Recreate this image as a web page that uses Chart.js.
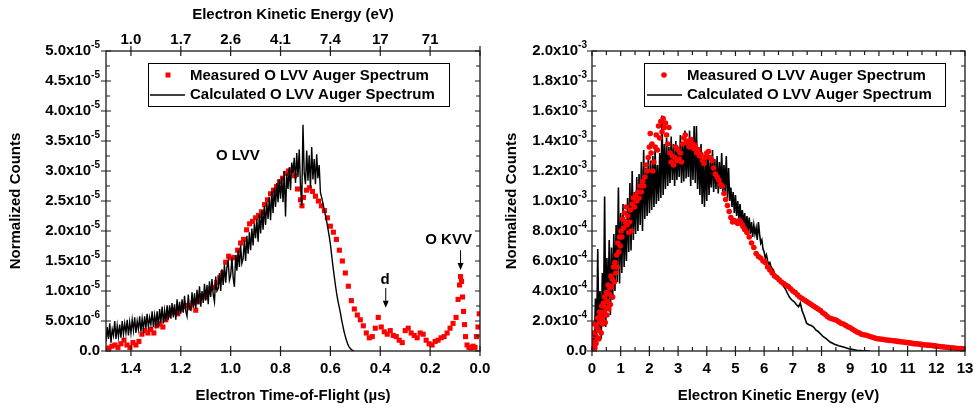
<!DOCTYPE html>
<html lang="en">
<head>
<meta charset="UTF-8">
<title>O LVV Auger Spectrum</title>
<script src="https://cdn.jsdelivr.net/npm/chart.js"></script>
<style>
    body { margin: 0; background: #fff; }
    .wrap { position: relative; width: 974px; height: 409px; }
    #left { position: absolute; left: 0; top: 0; }
    #right { position: absolute; left: 490px; top: 0; }
</style>
</head>
<body>
<div class="wrap">
    <canvas id="left" width="490" height="409"></canvas>
    <canvas id="right" width="484" height="409"></canvas>
</div>
<script>
// ---------- left panel: time-of-flight, counts in units of 1e-5 ----------
const tofMeasured = [
    1.500,1.488,1.476,1.464,1.452,1.440,1.428,1.416,1.404,1.392,
    1.380,1.368,1.356,1.344,1.332,1.320,1.308,1.296,1.284,1.272,
    1.260,1.248,1.236,1.224,1.212,1.200,1.188,1.176,1.164,1.152,
    1.140,1.128,1.116,1.104,1.092,1.080,1.068,1.056,1.044,1.032,
    1.020,1.008,0.996,0.984,0.972,0.960,0.948,0.936,0.924,0.912,
    0.900,0.888,0.876,0.864,0.852,0.840,0.828,0.816,0.804,0.792,
    0.780,0.768,0.756,0.744,0.732,0.720,0.714,0.708,0.696,0.684,
    0.672,0.660,0.648,0.636,0.624,0.612,0.600,0.588,0.576,0.564,
    0.552,0.540,0.528,0.516,0.504,0.492,0.480,0.468,0.456,0.444,
    0.432,0.420,0.408,0.396,0.384,0.372,0.360,0.348,0.336,0.324,
    0.312,0.300,0.288,0.276,0.264,0.252,0.240,0.228,0.216,0.204,
    0.192,0.180,0.168,0.156,0.144,0.132,0.120,0.108,0.096,0.088,
    0.082,0.078,0.074,0.070,0.066,0.062,0.058,0.052,0.044,0.036,
    0.028,0.020,0.014,0.008,0.003
];
const countsMeasuredTof = [
    0.02,0.05,0.08,0.10,0.06,0.12,0.18,0.10,0.06,0.14,
    0.10,0.16,0.28,0.34,0.30,0.36,0.30,0.42,0.45,0.40,
    0.52,0.60,0.68,0.64,0.62,0.70,0.74,0.76,0.72,0.80,
    0.68,0.82,0.92,0.90,0.98,1.04,1.06,1.14,1.22,1.30,
    1.48,1.58,1.55,1.56,1.68,1.80,1.86,2.02,2.12,2.16,
    2.22,2.26,2.32,2.44,2.52,2.62,2.68,2.74,2.82,2.88,
    2.96,3.00,3.02,2.92,2.70,2.52,2.42,2.56,2.68,2.72,
    2.66,2.58,2.50,2.42,2.34,2.22,2.08,1.98,1.86,1.68,
    1.50,1.30,1.08,0.84,0.70,0.60,0.52,0.42,0.30,0.22,
    0.24,0.38,0.56,0.40,0.32,0.28,0.34,0.26,0.24,0.18,
    0.14,0.34,0.38,0.30,0.26,0.22,0.30,0.28,0.18,0.12,
    0.10,0.16,0.18,0.22,0.24,0.30,0.38,0.46,0.56,0.86,
    1.10,1.24,1.16,0.90,0.66,0.44,0.24,0.10,0.06,0.05,
    0.08,0.06,0.24,0.40,0.62
];
const tofCalc = [
    1.500,1.495,1.490,1.485,1.480,1.475,1.470,1.465,1.460,1.455,
    1.450,1.445,1.440,1.435,1.430,1.425,1.420,1.415,1.410,1.405,
    1.400,1.395,1.390,1.385,1.380,1.375,1.370,1.365,1.360,1.355,
    1.350,1.345,1.340,1.335,1.330,1.325,1.320,1.315,1.310,1.305,
    1.300,1.295,1.290,1.285,1.280,1.275,1.270,1.265,1.260,1.255,
    1.250,1.245,1.240,1.235,1.230,1.225,1.220,1.215,1.210,1.205,
    1.200,1.195,1.190,1.185,1.180,1.175,1.170,1.165,1.160,1.155,
    1.150,1.145,1.140,1.135,1.130,1.125,1.120,1.115,1.110,1.105,
    1.100,1.095,1.090,1.085,1.080,1.075,1.070,1.065,1.060,1.055,
    1.050,1.045,1.040,1.035,1.030,1.025,1.020,1.015,1.010,1.005,
    1.000,0.995,0.990,0.985,0.980,0.975,0.970,0.965,0.960,0.955,
    0.950,0.945,0.940,0.935,0.930,0.925,0.920,0.915,0.910,0.905,
    0.900,0.895,0.890,0.885,0.880,0.875,0.870,0.865,0.860,0.855,
    0.850,0.845,0.840,0.835,0.830,0.825,0.820,0.815,0.810,0.805,
    0.800,0.795,0.790,0.785,0.780,0.775,0.770,0.765,0.760,0.755,
    0.750,0.745,0.740,0.735,0.730,0.725,0.720,0.715,0.710,0.705,
    0.700,0.695,0.690,0.685,0.680,0.675,0.670,0.665,0.660,0.655,
    0.650,0.645,0.640,0.635,0.630,0.625,0.620,0.615,0.610,0.605,
    0.600,0.595,0.590,0.585,0.580,0.575,0.570,0.565,0.560,0.555,
    0.550,0.545,0.540,0.535,0.530,0.525,0.520,0.515,0.510,0.505
];
const countsCalcTof = [
    0.16,0.40,0.20,0.46,0.14,0.36,0.26,0.50,0.20,0.42,
    0.24,0.44,0.22,0.50,0.28,0.46,0.30,0.52,0.26,0.48,
    0.30,0.52,0.34,0.56,0.30,0.50,0.36,0.58,0.32,0.54,
    0.36,0.58,0.38,0.62,0.40,0.56,0.44,0.66,0.40,0.60,
    0.44,0.66,0.40,0.70,0.48,0.74,0.46,0.68,0.50,0.76,
    0.52,0.76,0.54,0.80,0.56,0.78,0.52,0.86,0.60,0.82,
    0.62,0.86,0.64,0.92,0.66,0.58,0.94,0.70,0.68,0.98,
    0.72,0.96,0.70,1.02,0.78,1.08,0.74,1.00,0.80,1.12,
    0.84,1.10,0.78,1.16,0.90,1.20,0.94,0.82,1.24,1.00,
    1.04,1.30,1.00,1.36,1.10,1.44,1.14,1.40,1.50,1.18,
    1.26,1.56,1.22,1.07,1.60,1.34,1.68,1.40,1.76,1.46,
    1.54,1.84,1.50,1.92,1.62,1.98,1.68,2.04,1.76,2.12,
    1.88,2.20,1.82,2.28,1.96,2.34,2.02,2.42,2.10,2.48,
    2.20,2.56,2.18,2.66,2.30,2.72,2.40,2.80,2.48,2.86,
    2.54,2.90,2.48,3.00,2.24,2.96,2.70,3.06,2.68,3.14,
    2.96,3.22,2.80,3.30,2.90,3.36,2.76,2.42,3.77,2.96,
    2.78,3.34,2.84,3.26,2.72,3.40,2.86,3.20,2.78,3.28,
    2.88,3.10,2.64,2.56,2.46,2.36,2.26,2.16,2.04,1.92,
    1.78,1.60,1.42,1.26,1.10,0.96,0.84,0.74,0.64,0.52,
    0.42,0.32,0.24,0.17,0.11,0.07,0.04,0.02,0.01,0.00
];

const leftXTicks = [1.4, 1.2, 1.0, 0.8, 0.6, 0.4, 0.2, 0.0];
const leftXLabels = ['1.4', '1.2', '1.0', '0.8', '0.6', '0.4', '0.2', '0.0'];
const leftTopTicks = [1.4, 1.2, 1.0, 0.8, 0.6, 0.4, 0.2];
const leftTopLabels = ['1.0', '1.7', '2.6', '4.1', '7.4', '17', '71'];
const leftYTicks = [0, 0.5, 1.0, 1.5, 2.0, 2.5, 3.0, 3.5, 4.0, 4.5, 5.0];
const leftYLabels = ['0.0', '5.0x10^-6', '1.0x10^-5', '1.5x10^-5', '2.0x10^-5', '2.5x10^-5',
    '3.0x10^-5', '3.5x10^-5', '4.0x10^-5', '4.5x10^-5', '5.0x10^-5'];
const leftYMinor = [0.25, 0.75, 1.25, 1.75, 2.25, 2.75, 3.25, 3.75, 4.25, 4.75];

// peak labels and arrows, in data units of the left panel
const leftNotes = [
    { text: 'O LVV', x: 0.971, y: 3.26 },
    { text: 'd', x: 0.381, y: 1.18 },
    { text: 'O KVV', x: 0.126, y: 1.85 }
];
const leftArrows = [
    { x: 0.378, from: 1.05, to: 0.72 },
    { x: 0.078, from: 1.68, to: 1.35 }
];

// ---------- right panel: kinetic energy, counts in units of 1e-4 ----------
const energyMeasured = [
    0.03,0.05,0.06,0.08,0.10,0.12,0.14,0.16,0.18,0.20,
    0.22,0.24,0.26,0.28,0.30,0.32,0.34,0.36,0.38,0.40,
    0.42,0.44,0.46,0.48,0.50,0.52,0.54,0.56,0.58,0.60,
    0.62,0.64,0.66,0.68,0.70,0.72,0.75,0.78,0.80,0.83,
    0.86,0.88,0.90,0.93,0.96,0.98,1.01,1.04,1.07,1.10,
    1.13,1.16,1.19,1.22,1.25,1.28,1.31,1.34,1.37,1.40,
    1.44,1.48,1.52,1.56,1.60,1.64,1.68,1.72,1.76,1.80,
    1.84,1.88,1.92,1.96,2.00,2.03,2.06,2.09,2.12,2.15,
    2.20,2.24,2.28,2.32,2.36,2.40,2.44,2.48,2.52,2.56,
    2.60,2.64,2.68,2.72,2.76,2.80,2.84,2.88,2.92,2.96,
    3.00,3.04,3.08,3.12,3.16,3.20,3.25,3.30,3.35,3.40,
    3.45,3.50,3.55,3.60,3.65,3.70,3.75,3.80,3.85,3.90,
    3.95,4.00,4.06,4.12,4.18,4.24,4.30,4.36,4.42,4.48,
    4.54,4.60,4.66,4.72,4.78,4.84,4.90,4.96,5.02,5.08,
    5.14,5.20,5.26,5.32,5.40,5.48,5.56,5.64,5.72,5.80,
    5.88,5.96,6.04,6.12,6.20,6.28,6.36,6.44,6.52,6.60,
    6.68,6.76,6.84,6.92,7.00,7.08,7.16,7.24,7.32,7.40,
    7.48,7.56,7.64,7.72,7.80,7.88,7.96,8.04,8.12,8.20,
    8.28,8.36,8.44,8.52,8.60,8.68,8.76,8.84,8.92,9.00,
    9.08,9.16,9.24,9.32,9.40,9.48,9.56,9.64,9.72,9.80,
    9.88,9.96,10.04,10.12,10.20,10.28,10.36,10.44,10.52,10.60,
    10.68,10.76,10.84,10.92,11.00,11.08,11.16,11.24,11.32,11.40,
    11.48,11.56,11.64,11.72,11.80,11.88,11.96,12.04,12.12,12.20,
    12.28,12.36,12.44,12.52,12.60,12.68,12.76,12.84,12.92,13.00
];
const countsMeasuredE = [
    0.3,1.2,0.6,1.8,0.2,1.0,0.5,1.6,0.9,2.2,
    1.4,0.8,2.6,1.9,2.4,1.2,3.0,2.2,1.8,3.2,
    2.6,3.6,1.9,2.9,3.9,2.4,3.3,4.4,2.8,3.8,
    4.2,3.1,5.0,4.3,4.8,3.6,5.6,4.6,5.9,5.2,
    6.4,5.6,7.2,6.6,7.6,7.0,8.0,7.6,8.8,8.2,
    9.2,8.6,9.6,8.4,9.0,7.9,8.6,9.4,8.0,9.8,
    10.2,9.6,10.4,10.0,10.6,10.2,11.0,10.6,11.3,11.0,
    11.6,12.4,12.0,12.9,13.6,14.5,13.2,13.8,12.0,12.6,
    13.6,14.4,13.4,15.0,14.2,15.3,14.6,15.5,14.9,15.2,
    14.4,13.8,14.9,13.2,12.6,13.0,12.4,12.9,13.6,12.7,
    13.4,12.8,13.2,12.6,13.8,14.2,14.4,13.9,14.0,13.6,
    14.1,13.8,13.5,13.7,13.2,13.4,13.0,13.1,12.7,12.5,
    12.9,13.2,13.3,12.9,12.7,12.2,11.8,11.6,11.4,11.1,
    11.0,10.5,10.1,9.7,9.3,8.9,8.6,8.7,8.6,8.5,
    8.7,8.5,8.3,8.1,7.9,7.6,7.2,6.9,6.5,6.3,
    6.2,6.0,5.9,5.6,5.4,5.2,5.0,4.9,4.75,4.6,
    4.5,4.4,4.3,4.15,4.0,3.9,3.75,3.6,3.5,3.4,
    3.3,3.2,3.1,3.0,2.9,2.8,2.7,2.55,2.45,2.3,
    2.2,2.15,2.1,2.05,1.95,1.85,1.8,1.72,1.62,1.55,
    1.45,1.35,1.27,1.2,1.12,1.08,1.05,1.0,0.95,0.9,
    0.85,0.82,0.8,0.78,0.75,0.73,0.71,0.7,0.68,0.66,
    0.64,0.62,0.6,0.58,0.56,0.54,0.51,0.49,0.48,0.46,
    0.44,0.42,0.4,0.39,0.38,0.36,0.34,0.32,0.3,0.28,
    0.27,0.25,0.23,0.21,0.2,0.18,0.17,0.16,0.14,0.12
];
const energyCalc = [
    0.00,0.04,0.08,0.12,0.16,0.20,0.24,0.28,0.32,0.36,
    0.40,0.44,0.48,0.52,0.56,0.60,0.64,0.68,0.72,0.76,
    0.80,0.84,0.88,0.92,0.96,1.00,1.04,1.08,1.12,1.16,
    1.20,1.24,1.28,1.32,1.36,1.40,1.44,1.48,1.52,1.56,
    1.60,1.64,1.68,1.72,1.76,1.80,1.84,1.88,1.92,1.96,
    2.00,2.04,2.08,2.12,2.16,2.20,2.24,2.28,2.32,2.36,
    2.40,2.44,2.48,2.52,2.56,2.60,2.64,2.68,2.72,2.76,
    2.80,2.84,2.88,2.92,2.96,3.00,3.04,3.08,3.12,3.16,
    3.20,3.24,3.28,3.32,3.36,3.40,3.44,3.48,3.52,3.56,
    3.60,3.64,3.68,3.72,3.76,3.80,3.84,3.88,3.92,3.96,
    4.00,4.04,4.08,4.12,4.16,4.20,4.24,4.28,4.32,4.36,
    4.40,4.44,4.48,4.52,4.56,4.60,4.64,4.68,4.72,4.76,
    4.80,4.84,4.88,4.92,4.96,5.00,5.04,5.08,5.12,5.16,
    5.20,5.24,5.28,5.32,5.36,5.40,5.44,5.48,5.52,5.56,
    5.60,5.64,5.68,5.72,5.76,5.80,5.84,5.88,5.92,5.96,
    6.00,6.04,6.08,6.12,6.16,6.20,6.24,6.28,6.32,6.36,
    6.40,6.50,6.56,6.64,6.72,6.80,6.88,6.96,7.04,7.12,
    7.20,7.26,7.32,7.40,7.48,7.56,7.64,7.72,7.80,7.88,
    7.96,8.06,8.16,8.30,8.45,8.60,8.76,8.95,9.10,9.23,
    9.45,9.69
];
const countsCalcE = [
    0.0,0.9,0.2,3.5,0.6,6.8,1.2,4.0,0.8,5.2,
    2.0,10.3,1.6,6.2,3.0,7.4,2.4,6.9,3.4,7.8,
    4.0,8.4,4.6,10.9,4.5,9.2,5.2,9.8,5.6,8.8,
    6.0,10.2,6.6,11.2,6.7,12.0,7.4,10.6,7.8,11.6,
    8.0,11.8,8.4,12.6,8.0,13.4,8.8,12.2,9.0,12.9,
    9.2,12.7,9.4,13.0,9.6,13.6,9.8,12.4,10.0,13.2,
    10.2,15.7,10.4,13.8,10.8,14.2,11.0,13.6,11.2,14.3,
    11.4,13.8,11.0,14.0,11.4,13.6,11.6,14.4,11.2,13.9,
    11.3,14.7,11.5,13.8,11.6,14.7,11.0,14.2,11.4,15.0,
    11.2,15.0,10.8,13.6,10.4,13.8,9.8,12.8,9.6,13.2,
    10.0,13.4,10.4,12.6,10.9,13.4,10.6,12.8,10.8,13.0,
    10.5,12.6,10.8,13.2,10.5,12.4,10.6,13.0,10.2,12.2,
    10.0,10.9,9.6,10.6,9.2,10.4,9.0,10.0,8.8,9.8,
    8.6,9.4,8.4,9.2,8.2,9.0,8.0,8.9,7.8,8.6,
    7.6,8.4,7.8,8.2,7.4,8.6,7.8,7.2,7.4,6.8,
    6.6,6.2,6.4,6.0,5.8,5.9,5.6,5.5,5.4,5.2,
    5.0,4.8,4.7,4.4,4.2,3.9,3.6,3.4,3.3,3.1,
    2.95,3.2,2.7,2.3,1.85,1.75,1.7,1.6,1.4,1.3,
    1.15,0.95,0.82,0.6,0.45,0.35,0.27,0.15,0.1,0.05,
    0.02,0.0
];

const rightXTicks = [0, 1, 2, 3, 4, 5, 6, 7, 8, 9, 10, 11, 12, 13];
const rightXLabels = ['0', '1', '2', '3', '4', '5', '6', '7', '8', '9', '10', '11', '12', '13'];
const rightXMinor = [0.5, 1.5, 2.5, 3.5, 4.5, 5.5, 6.5, 7.5, 8.5, 9.5, 10.5, 11.5, 12.5];
const rightYTicks = [0, 2, 4, 6, 8, 10, 12, 14, 16, 18, 20];
const rightYLabels = ['0.0', '2.0x10^-4', '4.0x10^-4', '6.0x10^-4', '8.0x10^-4', '1.0x10^-3',
    '1.2x10^-3', '1.4x10^-3', '1.6x10^-3', '1.8x10^-3', '2.0x10^-3'];
const rightYMinor = [1, 3, 5, 7, 9, 11, 13, 15, 17, 19];

const FONT = '"Liberation Sans", Arial, sans-serif';

function pairs(xs, ys) {
    return xs.map((x, i) => ({ x: x, y: ys[i] }));
}

function sciLabel(ctx, text, xRight, y) {
    const parts = text.split('^');
    ctx.font = 'bold 15px ' + FONT;
    const mw = ctx.measureText(parts[0]).width;
    let ew = 0;
    if (parts[1]) {
        ctx.font = 'bold 10px ' + FONT;
        ew = ctx.measureText(parts[1]).width;
    }
    ctx.textAlign = 'left';
    ctx.textBaseline = 'middle';
    ctx.font = 'bold 15px ' + FONT;
    ctx.fillText(parts[0], xRight - ew - mw, y);
    if (parts[1]) {
        ctx.font = 'bold 10px ' + FONT;
        ctx.fillText(parts[1], xRight - ew, y - 6);
    }
}

// frame, ticks, labels, legend and notes drawn over the chart
function makeDeco(cfg) {
    return {
        id: 'deco',
        afterDraw(chart) {
            const ctx = chart.ctx;
            const a = chart.chartArea;
            const xs = chart.scales.x;
            const ys = chart.scales.y;
            ctx.save();
            ctx.strokeStyle = '#1a1a1a';
            ctx.lineWidth = 1.3;
            ctx.strokeRect(a.left, a.top, a.right - a.left, a.bottom - a.top);

            ctx.lineWidth = 1.2;
            ctx.beginPath();
            cfg.xTicks.forEach(v => {
                const px = xs.getPixelForValue(v);
                ctx.moveTo(px, a.bottom - 5); ctx.lineTo(px, a.bottom + 5);
                ctx.moveTo(px, a.top - cfg.topOut); ctx.lineTo(px, a.top + 5);
            });
            (cfg.xMinor || []).forEach(v => {
                const px = xs.getPixelForValue(v);
                ctx.moveTo(px, a.bottom - 4); ctx.lineTo(px, a.bottom);
                ctx.moveTo(px, a.top); ctx.lineTo(px, a.top + 4);
            });
            cfg.yTicks.forEach(v => {
                const py = ys.getPixelForValue(v);
                ctx.moveTo(a.left - 5, py); ctx.lineTo(a.left + 5, py);
                ctx.moveTo(a.right - 5, py); ctx.lineTo(a.right, py);
            });
            cfg.yMinor.forEach(v => {
                const py = ys.getPixelForValue(v);
                ctx.moveTo(a.left, py); ctx.lineTo(a.left + 4, py);
                ctx.moveTo(a.right - 4, py); ctx.lineTo(a.right, py);
            });
            ctx.stroke();

            ctx.fillStyle = '#000';
            ctx.font = 'bold 15px ' + FONT;
            ctx.textAlign = 'center';
            ctx.textBaseline = 'middle';
            cfg.xTicks.forEach((v, i) => {
                ctx.fillText(cfg.xLabels[i], xs.getPixelForValue(v), a.bottom + 18);
            });
            (cfg.topTicks || []).forEach((v, i) => {
                ctx.fillText(cfg.topLabels[i], xs.getPixelForValue(v), a.top - 11);
            });
            const midX = (a.left + a.right) / 2;
            ctx.fillText(cfg.xTitle, midX, a.bottom + 45);
            if (cfg.topTitle) ctx.fillText(cfg.topTitle, midX, 15);

            cfg.yTicks.forEach((v, i) => {
                sciLabel(ctx, cfg.yLabels[i], a.left - cfg.yGap, ys.getPixelForValue(v));
            });

            ctx.save();
            ctx.translate(cfg.yTitleX, (a.top + a.bottom) / 2);
            ctx.rotate(-Math.PI / 2);
            ctx.font = 'bold 15px ' + FONT;
            ctx.textAlign = 'center';
            ctx.textBaseline = 'middle';
            ctx.fillText('Normalized Counts', 0, 0);
            ctx.restore();

            // legend
            const lg = cfg.legend;
            const sets = chart.data.datasets;
            ctx.fillStyle = '#fff';
            ctx.fillRect(lg.x, lg.y, lg.w, lg.h);
            ctx.strokeStyle = '#000';
            ctx.lineWidth = 1;
            ctx.strokeRect(lg.x + 0.5, lg.y + 0.5, lg.w, lg.h);
            ctx.fillStyle = '#ff0000';
            if (lg.square) {
                ctx.fillRect(lg.markX - 2.5, lg.row1 - 2.5, 5, 5);
            } else {
                ctx.beginPath();
                ctx.arc(lg.markX, lg.row1, 2.8, 0, Math.PI * 2);
                ctx.fill();
            }
            ctx.strokeStyle = '#000';
            ctx.lineWidth = 1.5;
            ctx.beginPath();
            ctx.moveTo(lg.lineX1, lg.row2); ctx.lineTo(lg.lineX2, lg.row2);
            ctx.stroke();
            ctx.fillStyle = '#000';
            ctx.font = 'bold 15px ' + FONT;
            ctx.textAlign = 'left';
            ctx.textBaseline = 'middle';
            const measured = sets.find(d => d.key === 'measured');
            const calculated = sets.find(d => d.key === 'calc');
            ctx.fillText(measured.label, lg.textX, lg.row1 + 1);
            ctx.fillText(calculated.label, lg.textX, lg.row2);

            // peak notes
            ctx.textAlign = 'center';
            (cfg.notes || []).forEach(n => {
                ctx.fillText(n.text, xs.getPixelForValue(n.x), ys.getPixelForValue(n.y));
            });
            ctx.lineWidth = 1;
            (cfg.arrows || []).forEach(ar => {
                const px = xs.getPixelForValue(ar.x);
                const y1 = ys.getPixelForValue(ar.from);
                const y2 = ys.getPixelForValue(ar.to);
                ctx.beginPath();
                ctx.moveTo(px, y1); ctx.lineTo(px, y2 - 5);
                ctx.stroke();
                ctx.beginPath();
                ctx.moveTo(px - 3, y2 - 7); ctx.lineTo(px + 3, y2 - 7); ctx.lineTo(px, y2);
                ctx.closePath();
                ctx.fill();
            });
            ctx.restore();
        }
    };
}

function hiddenAxis(extra) {
    return Object.assign({
        type: 'linear',
        ticks: { display: false },
        grid: { display: false },
        border: { display: false }
    }, extra);
}

new Chart(document.getElementById('left'), {
    type: 'scatter',
    data: {
        datasets: [
            {
                key: 'calc',
                label: 'Calculated O LVV Auger Spectrum',
                data: pairs(tofCalc, countsCalcTof),
                showLine: true,
                borderColor: '#000',
                borderWidth: 1.4,
                pointRadius: 0,
                order: 0
            },
            {
                key: 'measured',
                label: 'Measured O LVV Auger Spectrum',
                data: pairs(tofMeasured, countsMeasuredTof),
                pointStyle: 'rect',
                pointRadius: 3.6,
                backgroundColor: '#ff0000',
                borderWidth: 0,
                order: 1
            }
        ]
    },
    options: {
        responsive: false,
        animation: false,
        layout: { padding: { top: 51, right: 10, left: 0, bottom: 0 } },
        plugins: { legend: { display: false }, tooltip: { enabled: false } },
        scales: {
            x: hiddenAxis({ min: 0, max: 1.5, reverse: true, afterFit(s) { s.height = 58; } }),
            y: hiddenAxis({ min: 0, max: 5, afterFit(s) { s.width = 106; } })
        }
    },
    plugins: [makeDeco({
        xTicks: leftXTicks, xLabels: leftXLabels,
        topTicks: leftTopTicks, topLabels: leftTopLabels, topOut: 5,
        yTicks: leftYTicks, yLabels: leftYLabels, yMinor: leftYMinor,
        xTitle: 'Electron Time-of-Flight (\u00b5s)',
        topTitle: 'Electron Kinetic Energy (eV)',
        yTitleX: 16, yGap: 6,
        legend: { x: 148, y: 63, w: 301, h: 43, square: true, markX: 168, row1: 75, row2: 95,
            lineX1: 150, lineX2: 185, textX: 190 },
        notes: leftNotes, arrows: leftArrows
    })]
});

new Chart(document.getElementById('right'), {
    type: 'scatter',
    data: {
        datasets: [
            {
                key: 'measured',
                label: 'Measured O LVV Auger Spectrum',
                data: pairs(energyMeasured, countsMeasuredE),
                pointRadius: 2.8,
                backgroundColor: '#ff0000',
                borderWidth: 0,
                order: 0
            },
            {
                key: 'calc',
                label: 'Calculated O LVV Auger Spectrum',
                data: pairs(energyCalc, countsCalcE),
                showLine: true,
                borderColor: '#000',
                borderWidth: 1.6,
                pointRadius: 0,
                order: 1
            }
        ]
    },
    options: {
        responsive: false,
        animation: false,
        layout: { padding: { top: 51, right: 9, left: 0, bottom: 0 } },
        plugins: { legend: { display: false }, tooltip: { enabled: false } },
        scales: {
            x: hiddenAxis({ min: 0, max: 13, afterFit(s) { s.height = 58; } }),
            y: hiddenAxis({ min: 0, max: 20, afterFit(s) { s.width = 102; } })
        }
    },
    plugins: [makeDeco({
        xTicks: rightXTicks, xLabels: rightXLabels, xMinor: rightXMinor, topOut: 0,
        yTicks: rightYTicks, yLabels: rightYLabels, yMinor: rightYMinor,
        xTitle: 'Electron Kinetic Energy (eV)',
        yTitleX: 22, yGap: 5,
        legend: { x: 154, y: 63, w: 301, h: 43, square: false, markX: 174, row1: 75, row2: 95,
            lineX1: 157, lineX2: 192, textX: 197 }
    })]
});
</script>
</body>
</html>
